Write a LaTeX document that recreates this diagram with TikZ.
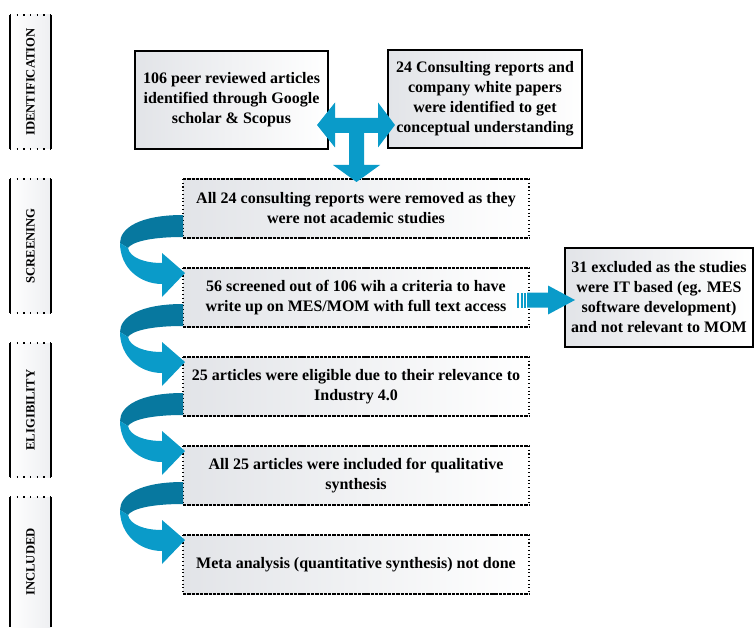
\documentclass[tikz,border=0pt]{standalone}
\usepackage{fontspec}
\setmainfont{Liberation Serif}
\usepackage{graphicx}
\usetikzlibrary{calc}

\definecolor{arrowblue}{HTML}{0A9BC9}
\definecolor{arrowdark}{HTML}{07789F}
\definecolor{boxgrey}{HTML}{E2E4E8}

\tikzset{
    phase/.style={shading=axis, left color=white, right color=boxgrey!60, minimum width=30.75pt, minimum height=100.5pt, inner sep=0pt, outer sep=0pt, font=\fontsize{9.5}{11}\selectfont\bfseries},
    solidbox/.style={draw, line width=1pt, shading=axis, left color=boxgrey, right color=white, inner sep=2pt, outer sep=0pt, align=center, font=\fontsize{12}{15}\selectfont\bfseries},
    dashbox/.style={shading=axis, left color=boxgrey, right color=white, minimum width=259.5pt, minimum height=44.25pt, inner sep=2pt, outer sep=0pt, align=center, font=\fontsize{12}{15}\selectfont\bfseries},
    denseline/.style={line width=1pt, dash pattern=on 2.5pt off 0.7pt},
    dotline/.style={line width=1pt, dash pattern=on 0.8pt off 2pt},
    sparsedots/.style={line width=1.2pt, dash pattern=on 1pt off 4pt},
    turnarrow/.pic={
        \fill[arrowdark] (0,-23) .. controls (-43,-23) and (-63,-10) .. (-63,5) -- (-55,10) .. controls (-51,4) and (-33,-1) .. (0,-1) -- cycle;
        \fill[arrowblue] (-63,5) .. controls (-63,30) and (-43,46) .. (-21,46) -- (-21,59) -- (2,35) -- (-21,15) -- (-21,25) .. controls (-38,25) and (-53,20) .. (-55,10) -- cycle;
    }
}

\begin{document}
\begin{tikzpicture}[x=0.75pt, y=-0.75pt]

    \useasboundingbox (0,0) rectangle (755,627);

    % phases
    \node [phase] (pid) at (30.5,82) {\rotatebox{90}{IDENTIFICATION}};
    \node [phase] (psc) at (30.5,246) {\rotatebox{90}{SCREENING}};
    \node [phase] (pel) at (30.5,410) {\rotatebox{90}{ELIGIBILITY}};
    \node [phase, minimum height=97.5pt] (pin) at (30.5,562) {\rotatebox{90}{INCLUDED}};

    \foreach \p in {pid,psc,pel}
        \draw [sparsedots] (\p.north west) -- (\p.north east) (\p.south west) -- (\p.south east);
    \draw [sparsedots] (pin.north west) -- (pin.north east);
    \foreach \p in {pid,psc,pel,pin}
        \draw [line width=0.8pt] (\p.north west) -- (\p.south west) (\p.north east) -- (\p.south east);

    % sources
    \node [solidbox, minimum width=144.75pt, minimum height=73.5pt] (src) at (231.5,100) {106 peer reviewed articles\\identified through Google\\scholar \& Scopus};
    \node [solidbox, minimum width=145.5pt, minimum height=73.5pt] (rep) at (485,99) {24 Consulting reports and\\company white papers\\were identified to get\\conceptual understanding};

    % steps
    \node [dashbox] (rem) at (356,208.5) {All 24 consulting reports were removed as they\\were not academic studies};
    \node [dashbox] (scr) at (356,297.5) {56 screened out of 106 wih a criteria to have\\write up on MES/MOM with full text access};
    \node [dashbox] (eli) at (356,386.5) {25 articles were eligible due to their relevance to\\Industry 4.0};
    \node [dashbox] (inc) at (356,475.5) {All 25 articles were included for qualitative\\synthesis};
    \node [dashbox] (met) at (356,564.5) {Meta analysis (quantitative synthesis) not done};

    \foreach \b in {rem,scr,eli,inc,met} {
        \draw [denseline] (\b.north west) -- (\b.north east) (\b.south west) -- (\b.south east);
        \draw [dotline] (\b.north west) -- (\b.south west) (\b.north east) -- (\b.south east);
    }

    \node [solidbox, minimum width=141pt, minimum height=74.25pt] (exc) at (659,297.5) {31 excluded as the studies\\were IT based (eg. MES\\software development)\\and not relevant to MOM};

    % arrows
    \coordinate (jn) at (356.5,125);
    \fill [arrowblue, shift={(jn)}] (-39.5,0) -- (-21.5,-22.5) -- (-21.5,-7) -- (21.5,-7) -- (21.5,-22.5) -- (38.5,0) -- (21.5,22.5) -- (21.5,8) -- (7.5,8) -- (7.5,40) -- (23.5,40) -- (0,57) -- (-23.5,40) -- (-7.5,40) -- (-7.5,8) -- (-21.5,8) -- (-21.5,22.5) -- cycle;

    \foreach \b in {rem,scr,eli,inc}
        \pic at (\b.south west) {turnarrow};

    \coordinate (ex) at ($(scr.east)!0.5!(exc.west)+(0,2.5)$);
    \fill [arrowblue, shift={(ex)}] (-20,-7.5) -- (1,-7.5) -- (1,-14.5) -- (28,0) -- (1,14.5) -- (1,7.5) -- (-20,7.5) -- cycle;
    \foreach \s in {-30,-26.5,-23}
        \fill [arrowblue, shift={(ex)}] (\s,-7.5) rectangle ++(2,15);

\end{tikzpicture}
\end{document}
